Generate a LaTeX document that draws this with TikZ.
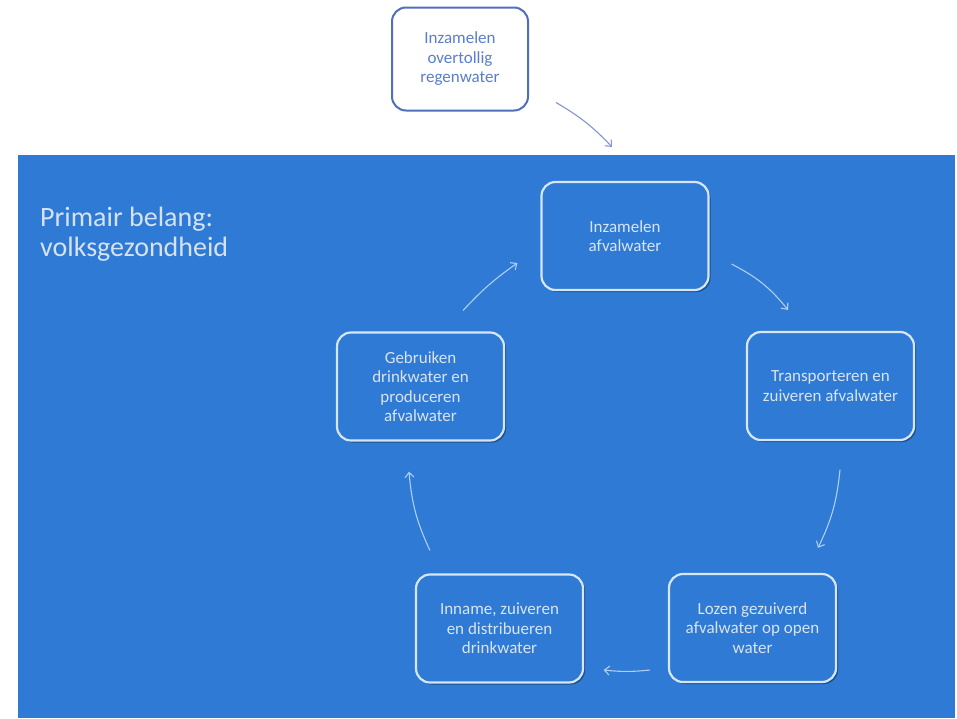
\documentclass[tikz,border=0pt]{standalone}
\usepackage{fontspec}
\setmainfont{Carlito}
\usetikzlibrary{arrows.meta,shadows}
\definecolor{bgblue}{RGB}{46,122,212}
\definecolor{boxline}{RGB}{214,230,247}
\definecolor{boxtext}{RGB}{218,228,240}
\definecolor{arrowc}{RGB}{176,206,242}
\definecolor{topline}{RGB}{80,110,190}
\definecolor{toptext}{RGB}{90,125,205}
\definecolor{toparrow}{RGB}{130,150,200}
\definecolor{titletext}{RGB}{214,226,240}
\begin{document}
\begin{tikzpicture}[x=1pt,y=-1pt,
  cyc/.style={draw=boxline, line width=2.2pt, rounded corners=14pt,
    minimum width=167pt, minimum height=108pt, align=center, text=boxtext,
    fill=bgblue, inner sep=2pt, font=\fontsize{17}{19.5}\selectfont,
    drop shadow={shadow xshift=2pt, shadow yshift=-2pt, opacity=0.35, fill=black}},
  topbox/.style={draw=topline, line width=2pt, rounded corners=14pt,
    minimum width=136pt, minimum height=103pt, align=center, text=toptext,
    fill=white, font=\fontsize{17}{19.5}\selectfont},
  arr/.style={draw=arrowc, line width=1.1pt, -{Straight Barb[length=5pt,width=9pt]}},
  toparr/.style={draw=toparrow, line width=1.1pt, -{Straight Barb[length=5pt,width=9pt]}},
  title/.style={align=left, text=titletext, inner sep=0pt, font=\fontsize{28}{30}\selectfont}
]
\fill[white] (0,0) rectangle (957,718);
\useasboundingbox (0,0) rectangle (957,718);
\fill[bgblue] (18,155) rectangle (955,718);

\node[title, anchor=north west] (ttl) at (40,207) {Primair belang:\\volksgezondheid};

\node[topbox] (top) at (460,59) {Inzamelen\\overtollig\\regenwater};

\node[cyc] (inz) at (625,236) {Inzamelen\\afvalwater};
\node[cyc] (tra) at (830.5,386) {Transporteren en\\zuiveren afvalwater};
\node[cyc] (loz) at (752.5,628) {Lozen gezuiverd\\afvalwater op open\\water};
\node[cyc] (inn) at (499.5,628.5) {Inname, zuiveren\\en distribueren\\drinkwater};
\node[cyc] (geb) at (420.5,386.5) {Gebruiken\\drinkwater en\\produceren\\afvalwater};

\draw[toparr] ([shift={(27,-9)}]top.south east) to[bend left=8] ([shift={(-13,-34)}]inz.north);
\draw[arr] ([shift={(22,-27)}]inz.south east) to[bend left=12] ([shift={(-42.5,-21)}]tra.north);
\draw[arr] ([shift={(9.5,28.5)}]tra.south) to[bend left=10] ([shift={(65.5,-25)}]loz.north);
\draw[arr] ([shift={(-18,42)}]loz.west) to[bend left=6] ([shift={(19.5,41.5)}]inn.east);
\draw[arr] ([shift={(15,-23)}]inn.north west) to[bend left=10] ([shift={(-11.5,30)}]geb.south);
\draw[arr] ([shift={(-42,-21)}]geb.north east) to[bend left=6] ([shift={(-23,27)}]inz.west);
\end{tikzpicture}
\end{document}
